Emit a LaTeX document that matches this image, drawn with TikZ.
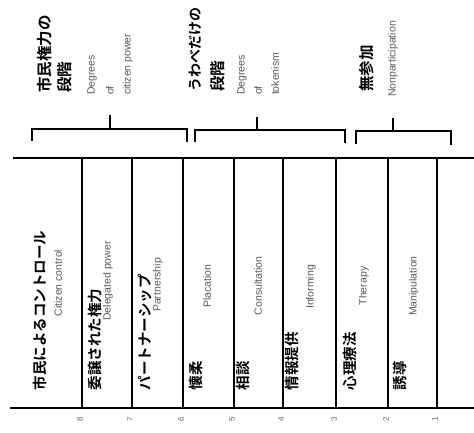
\documentclass[tikz,border=0pt]{standalone}
\usepackage{fontspec}
\setmainfont{Liberation Sans}
\newfontfamily\jp{Noto Sans CJK JP}[BoldFont={Noto Sans CJK JP Bold}]
\usetikzlibrary{calc,positioning}

\begin{document}
\begin{tikzpicture}[x=1pt,y=1pt,line width=2pt,
    every node/.style={inner sep=0pt},
    jlab/.style={rotate=90,anchor=west,font=\jp\bfseries\fontsize{14.5}{14.5}\selectfont},
    glab/.style={rotate=90,anchor=west,font=\jp\bfseries\fontsize{15.5}{15.5}\selectfont},
    elab/.style={rotate=90,font=\fontsize{10.5}{10.5}\selectfont,text=black!65},
    num/.style={rotate=90,font=\fontsize{8}{8}\selectfont,text=black!60}]
        \useasboundingbox (0,0) rectangle (474,-433);
        \coordinate (1) at (13,-158);
        \coordinate (2) at (474,-158);
        \coordinate (3) at (474,-408);
        \coordinate (4) at (10,-408);
        \draw (1)--(2);
        \draw (4)--(3);
        % rungs of the ladder
        \foreach \x/\n in {82/8,132/7,183/6,234/5,283/4,336/3,388/2,437/1} {
            \coordinate (t\n) at (\x,-158);
            \coordinate (b\n) at (\x,-408);
            \draw (t\n)--(b\n);
            \node[num] (n\n) at (\x-2,-419) {\n};
        }

        % rung texts
        \node[jlab] (j8) at (40,-391) {市民によるコントロール};
        \node[elab] (e8) at (58,-283) {Citizen control};
        \node[jlab] (j7) at (95,-391) {委譲された権力};
        \node[elab] (e7) at (108,-281) {Delegated power};
        \node[jlab] (j6) at (145,-391) {パートナーシップ};
        \node[elab] (e6) at (158,-285) {Partnership};
        \node[jlab] (j5) at (196,-391) {懐柔};
        \node[elab] (e5) at (207,-286) {Placation};
        \node[jlab] (j4) at (243,-391) {相談};
        \node[elab] (e4) at (258,-286) {Consultation};
        \node[jlab] (j3) at (292,-391) {情報提供};
        \node[elab] (e3) at (311,-287) {Informing};
        \node[jlab] (j2) at (350,-391) {心理療法};
        \node[elab] (e2) at (364,-286) {Therapy};
        \node[jlab] (j1) at (400,-391) {誘導};
        \node[elab] (e1) at (414,-286) {Manipulation};

        % brackets
        \coordinate (p1) at (32,-141);
        \coordinate (p2) at (32,-129);
        \coordinate (p3) at (187,-129);
        \coordinate (p4) at (187,-142);
        \coordinate (p5) at (110,-129);
        \coordinate (p6) at (110,-115);
        \draw (p1)--(p2)--(p3)--(p4);
        \draw (p5)--(p6);
        \coordinate (q1) at (195,-142);
        \coordinate (q2) at (195,-130);
        \coordinate (q3) at (345,-130);
        \coordinate (q4) at (345,-143);
        \coordinate (q5) at (257,-130);
        \coordinate (q6) at (257,-117);
        \draw (q1)--(q2)--(q3)--(q4);
        \draw (q5)--(q6);
        \coordinate (r1) at (356,-144);
        \coordinate (r2) at (356,-131);
        \coordinate (r3) at (451,-131);
        \coordinate (r4) at (451,-145);
        \coordinate (r5) at (393,-131);
        \coordinate (r6) at (393,-118);
        \draw (r1)--(r2)--(r3)--(r4);
        \draw (r5)--(r6);

        % group labels
        \node[glab] (g1a) at (45,-94) {市民権力の};
        \node[glab] (g1b) at (65,-94) {段階};
        \node[elab,anchor=west] (d1a) at (92,-96) {Degrees};
        \node[elab,anchor=west] (d1b) at (110,-96) {of};
        \node[elab,anchor=west] (d1c) at (128,-96) {citizen power};
        \node[glab,font=\jp\bfseries\fontsize{14}{14}\selectfont] (g2a) at (195,-93) {うわべだけの};
        \node[glab] (g2b) at (218,-93) {段階};
        \node[elab,anchor=west] (d2a) at (242,-96) {Degrees};
        \node[elab,anchor=west] (d2b) at (258,-96) {of};
        \node[elab,anchor=west] (d2c) at (275,-96) {tokenism};
        \node[glab] (g3a) at (367,-93) {無参加};
        \node[elab,anchor=west] (d3a) at (393,-98) {Nonparticipation};
    \end{tikzpicture}
\end{document}
